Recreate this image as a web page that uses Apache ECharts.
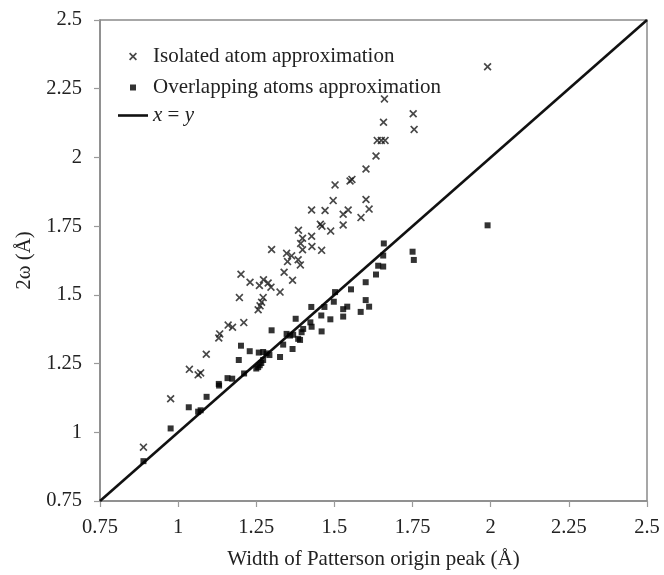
<!DOCTYPE html>
<html>
<head>
<meta charset="utf-8">
<style>
  html, body { margin: 0; padding: 0; background: #fff; }
  #chart { width: 664px; height: 575px; }
</style>
<script src="https://cdn.jsdelivr.net/npm/echarts@6/dist/echarts.min.js"></script>
</head>
<body>
<div id="chart"></div>
<script>
// 2ω versus width of the Patterson origin peak (both in Å)
const isolatedAtom = [
  [0.889, 0.946], [0.976, 1.122], [1.036, 1.229], [1.064, 1.209], [1.072, 1.216],
  [1.090, 1.284], [1.130, 1.343], [1.133, 1.358], [1.160, 1.390], [1.174, 1.382],
  [1.210, 1.399], [1.196, 1.490], [1.201, 1.575], [1.230, 1.546], [1.260, 1.534],
  [1.273, 1.555], [1.288, 1.543], [1.297, 1.528], [1.326, 1.510], [1.272, 1.490],
  [1.267, 1.473], [1.262, 1.460], [1.256, 1.446], [1.299, 1.665], [1.339, 1.582],
  [1.366, 1.553], [1.347, 1.651], [1.363, 1.642], [1.350, 1.621], [1.384, 1.628],
  [1.391, 1.609], [1.398, 1.664], [1.428, 1.676], [1.459, 1.662], [1.385, 1.735],
  [1.398, 1.706], [1.392, 1.687], [1.427, 1.713], [1.455, 1.757], [1.460, 1.750],
  [1.488, 1.732], [1.528, 1.754], [1.585, 1.781], [1.427, 1.809], [1.470, 1.807],
  [1.496, 1.843], [1.502, 1.900], [1.528, 1.793], [1.544, 1.809], [1.550, 1.914],
  [1.556, 1.920], [1.601, 1.847], [1.611, 1.812], [1.601, 1.958], [1.633, 2.005],
  [1.637, 2.062], [1.650, 2.062], [1.662, 2.062], [1.657, 2.128], [1.660, 2.213],
  [1.752, 2.159], [1.755, 2.102], [1.990, 2.330]
];

const overlappingAtoms = [
  [0.889, 0.895], [0.976, 1.014], [1.034, 1.091], [1.064, 1.075], [1.072, 1.080],
  [1.091, 1.129], [1.130, 1.176], [1.131, 1.170], [1.158, 1.197], [1.173, 1.195],
  [1.211, 1.214], [1.194, 1.263], [1.201, 1.315], [1.229, 1.295], [1.258, 1.290],
  [1.272, 1.292], [1.283, 1.287], [1.292, 1.281], [1.272, 1.263], [1.266, 1.252],
  [1.261, 1.244], [1.256, 1.237], [1.250, 1.232], [1.326, 1.274], [1.299, 1.371],
  [1.336, 1.319], [1.366, 1.303], [1.347, 1.358], [1.358, 1.352], [1.368, 1.355],
  [1.384, 1.340], [1.390, 1.336], [1.376, 1.413], [1.423, 1.400], [1.427, 1.384],
  [1.400, 1.376], [1.395, 1.364], [1.426, 1.456], [1.458, 1.425], [1.459, 1.367],
  [1.468, 1.456], [1.487, 1.411], [1.498, 1.475], [1.502, 1.510], [1.541, 1.457],
  [1.528, 1.448], [1.528, 1.421], [1.553, 1.520], [1.584, 1.438], [1.600, 1.546],
  [1.600, 1.481], [1.611, 1.457], [1.633, 1.574], [1.640, 1.606], [1.656, 1.603],
  [1.656, 1.643], [1.658, 1.687], [1.750, 1.657], [1.754, 1.627], [1.990, 1.753]
];

const identityLine = [[0.75, 0.75], [2.5, 2.5]];

const seriesNames = ['Isolated atom approximation', 'Overlapping atoms approximation', 'x = y'];
const axisRange = { min: 0.75, max: 2.5, step: 0.25 };

const FONT = '"Liberation Serif", "Times New Roman", serif';
const TEXT = '#222';
const CROSS = 'path://M1.5,0 L5,3.5 L8.5,0 L10,1.5 L6.5,5 L10,8.5 L8.5,10 L5,6.5 L1.5,10 L0,8.5 L3.5,5 L0,1.5 Z';
const LINE_ICON = 'path://M0,0 L30,0 L30,2.6 L0,2.6 Z';

const axisCommon = {
  type: 'value',
  min: axisRange.min,
  max: axisRange.max,
  interval: axisRange.step,
  splitLine: { show: false },
  axisLine: { show: true, lineStyle: { color: '#8a8a8a', width: 1.5 } },
  axisTick: { show: true, inside: false, length: 6, lineStyle: { color: '#9a9a9a', width: 1.2 } },
  axisLabel: { fontFamily: FONT, fontSize: 20.5, color: TEXT },
  nameTextStyle: { fontFamily: FONT, fontSize: 21, color: TEXT },
  nameLocation: 'middle'
};

const legendText = { fontFamily: FONT, fontSize: 21, color: TEXT, lineHeight: 21 };

const chart = echarts.init(document.getElementById('chart'), null, { renderer: 'canvas' });
chart.setOption({
  animation: false,
  backgroundColor: '#fff',
  grid: {
    left: 100, right: 17, top: 20, bottom: 67,
    show: true, borderColor: '#8a8a8a', borderWidth: 1.5, backgroundColor: 'transparent'
  },
  xAxis: Object.assign({}, axisCommon, {
    name: 'Width of Patterson origin peak (Å)',
    nameGap: 48,
    axisLabel: Object.assign({}, axisCommon.axisLabel, { margin: 16 })
  }),
  yAxis: Object.assign({}, axisCommon, {
    name: '2ω (Å)',
    nameGap: 62,
    axisLabel: Object.assign({}, axisCommon.axisLabel, { margin: 18 })
  }),
  legend: [
    {
      data: [seriesNames[0]], left: 124, top: 41, itemWidth: 8, itemHeight: 8, itemGap: 0,
      icon: CROSS, selectedMode: false,
      textStyle: Object.assign({}, legendText, { padding: [0, 0, 0, 11] })
    },
    {
      data: [seriesNames[1]], left: 125, top: 72, itemWidth: 6, itemHeight: 6, itemGap: 0,
      icon: 'rect', selectedMode: false,
      textStyle: Object.assign({}, legendText, { padding: [0, 0, 0, 12] })
    },
    {
      data: [seriesNames[2]], left: 113, top: 100, itemWidth: 30, itemHeight: 2.6, itemGap: 0,
      icon: LINE_ICON, selectedMode: false,
      itemStyle: { color: '#111' },
      formatter: function () { return '{i|x} = {i|y}'; },
      textStyle: Object.assign({}, legendText, {
        padding: [0, 0, 0, 0],
        rich: { i: { fontFamily: FONT, fontSize: 21, fontStyle: 'italic', color: TEXT } }
      })
    }
  ],
  series: [
    {
      name: seriesNames[0],
      type: 'scatter',
      data: isolatedAtom,
      symbol: CROSS,
      symbolSize: 8,
      itemStyle: { color: '#1a1a1a' },
      z: 3
    },
    {
      name: seriesNames[1],
      type: 'scatter',
      data: overlappingAtoms,
      symbol: 'rect',
      symbolSize: 6,
      itemStyle: { color: '#000' },
      z: 3
    },
    {
      name: seriesNames[2],
      type: 'line',
      data: identityLine,
      symbol: 'none',
      lineStyle: { color: '#111', width: 2.6 },
      itemStyle: { color: '#111' },
      z: 2
    }
  ]
});
</script>
</body>
</html>
